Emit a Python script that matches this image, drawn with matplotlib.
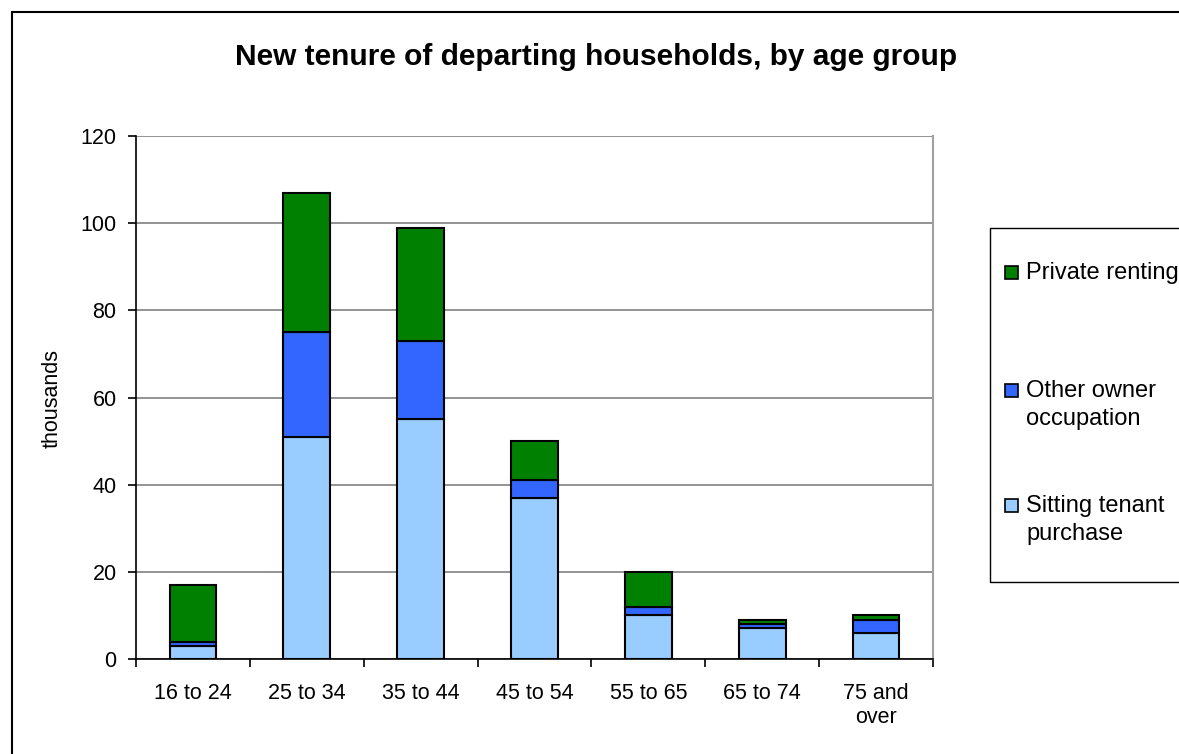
import numpy as np
import matplotlib.pyplot as plt
from matplotlib.patches import Rectangle

plt.rcParams['font.family'] = ['Liberation Sans', 'DejaVu Sans']

categories = ["16 to 24", "25 to 34", "35 to 44", "45 to 54", "55 to 65", "65 to 74", "75 and\nover"]
sitting_tenant = [3, 51, 55, 37, 10, 7, 6]
other_owner = [1, 24, 18, 4, 2, 1, 3]
private_renting = [13, 32, 26, 9, 8, 1, 1]

series_names = [["Private renting"], ["Other owner", "occupation"], ["Sitting tenant", "purchase"]]

c_sit = "#99ccff"
c_own = "#3366ff"
c_priv = "#008000"

W, H = 1179, 754
def fx(px): return px / W
def fy(py): return 1 - py / H

fig = plt.figure(figsize=(W/100, H/100), dpi=100)
ax = fig.add_axes([fx(136), fy(659), (933-136)/W, (659-136)/H])

x = np.arange(len(categories))
w = 0.41
sit = np.array(sitting_tenant)
own = np.array(other_owner)
priv = np.array(private_renting)
ax.bar(x, sit, w, color=c_sit, edgecolor="black", linewidth=1.5, zorder=3)
ax.bar(x, own, w, bottom=sit, color=c_own, edgecolor="black", linewidth=1.5, zorder=3)
ax.bar(x, priv, w, bottom=sit+own, color=c_priv, edgecolor="black", linewidth=1.5, zorder=3)

ax.set_xlim(-0.5, len(categories)-0.5)
ax.set_ylim(0, 120)
ax.set_yticks(range(0, 121, 20))
ax.yaxis.grid(True, color="#808080", linewidth=1.2, zorder=0)
ax.set_xticks(x)
ax.set_xticklabels(categories, fontsize=15.5, linespacing=1.2)
ax.tick_params(axis='x', length=0, pad=17)
# category boundary ticks
ax.set_xticks(np.arange(-0.5, len(categories)), minor=True)
ax.tick_params(axis='x', which='minor', length=6, width=1.2, color="black")
ax.tick_params(axis='y', length=6, width=1.2, color="black", labelsize=15.5, pad=8)
for s in ["left", "bottom"]:
    ax.spines[s].set_color("black")
    ax.spines[s].set_linewidth(1.2)
ax.spines["right"].set_color("#a0a0a0")
ax.spines["right"].set_linewidth(1.5)
ax.spines["top"].set_visible(False)
ax.set_ylabel("thousands", fontsize=15.5)
ax.yaxis.set_label_coords((63 - 136) / (933 - 136), (659 - 399) / (659 - 136))

fig.text(fx(596), fy(57), "New tenure of departing households, by age group",
         ha="center", va="center", fontsize=21.5, fontweight="bold")

# outer chart border
fig.patches.append(Rectangle((fx(12), -0.1), 1.2, fy(12) + 0.1, transform=fig.transFigure,
                             fill=False, edgecolor="black", linewidth=1.5))

# legend box (runs off the right edge, as in the source)
fig.patches.append(Rectangle((fx(990), fy(582)), 0.5, fy(228) - fy(582), transform=fig.transFigure,
                             fill=False, edgecolor="black", linewidth=1.0))
legend_colors = [c_priv, c_own, c_sit]
first_baselines = [279, 397, 512]
for name_lines, col, base in zip(series_names, legend_colors, first_baselines):
    fig.patches.append(Rectangle((fx(1005), fy(base)), 13/W, 13/H, transform=fig.transFigure,
                                 facecolor=col, edgecolor="black", linewidth=1.2))
    for k, line in enumerate(name_lines):
        fig.text(fx(1026), fy(base + 28*k), line, ha="left", va="baseline", fontsize=17)

fig.savefig("out.png", dpi=100)
